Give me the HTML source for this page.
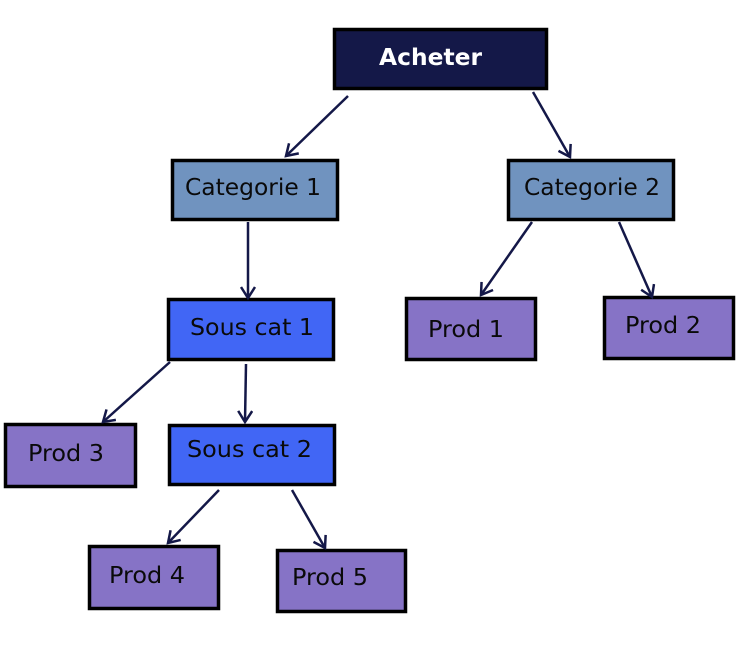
<!DOCTYPE html>
<html><head><meta charset="utf-8"><style>
body{margin:0;background:#fff;width:755px;height:659px;overflow:hidden}
svg text{font-family:"DejaVu Sans","Liberation Sans",sans-serif;font-size:23px;fill:#0a0a0a}
</style></head><body>
<svg width="755" height="659" viewBox="0 0 755 659" xmlns="http://www.w3.org/2000/svg">
<defs><marker id="a" markerWidth="16" markerHeight="16" refX="13" refY="8" orient="auto" markerUnits="userSpaceOnUse"><path d="M2,1 L13,8 L2,15" fill="none" stroke="#141848" stroke-width="2.5"/></marker></defs>
<g stroke-width="3.5" stroke="#000">
<rect x="334.5" y="29.5" width="212" height="59" fill="#141848"/>
<rect x="172.5" y="160.5" width="165" height="59" fill="#7093bf"/>
<rect x="508.5" y="160.5" width="165" height="59" fill="#7093bf"/>
<rect x="168.5" y="299.5" width="165" height="60" fill="#4166f5"/>
<rect x="169.5" y="425.5" width="165" height="59" fill="#4166f5"/>
<rect x="5.5" y="424.5" width="130" height="62" fill="#8673c6"/>
<rect x="89.5" y="546.5" width="129" height="62" fill="#8673c6"/>
<rect x="277.5" y="550.5" width="128" height="61" fill="#8673c6"/>
<rect x="406.5" y="298.5" width="129" height="61" fill="#8673c6"/>
<rect x="604.5" y="297.5" width="129" height="61" fill="#8673c6"/>
</g>
<g stroke="#141848" stroke-width="2.5" marker-end="url(#a)" fill="none">
<line x1="348" y1="96" x2="286" y2="156"/>
<line x1="533" y1="92" x2="570" y2="157"/>
<line x1="248" y1="222" x2="248" y2="298"/>
<line x1="532" y1="222" x2="481" y2="295"/>
<line x1="619" y1="222" x2="652" y2="297"/>
<line x1="170" y1="362" x2="103" y2="422"/>
<line x1="246" y1="364" x2="245" y2="422"/>
<line x1="219" y1="490" x2="168" y2="543"/>
<line x1="292" y1="490" x2="325" y2="548"/>
</g>
<text x="379" y="65" textLength="103" lengthAdjust="spacingAndGlyphs" style="fill:#fff;font-weight:bold">Acheter</text>
<text x="185" y="195" textLength="136" lengthAdjust="spacingAndGlyphs">Categorie 1</text>
<text x="524" y="195" textLength="136" lengthAdjust="spacingAndGlyphs">Categorie 2</text>
<text x="190" y="335" textLength="124" lengthAdjust="spacingAndGlyphs">Sous cat 1</text>
<text x="187" y="457" textLength="125" lengthAdjust="spacingAndGlyphs">Sous cat 2</text>
<text x="28" y="461" textLength="76" lengthAdjust="spacingAndGlyphs">Prod 3</text>
<text x="109" y="583" textLength="76" lengthAdjust="spacingAndGlyphs">Prod 4</text>
<text x="292" y="585" textLength="76" lengthAdjust="spacingAndGlyphs">Prod 5</text>
<text x="428" y="337" textLength="76" lengthAdjust="spacingAndGlyphs">Prod 1</text>
<text x="625" y="333" textLength="76" lengthAdjust="spacingAndGlyphs">Prod 2</text>
</svg>
</body></html>
